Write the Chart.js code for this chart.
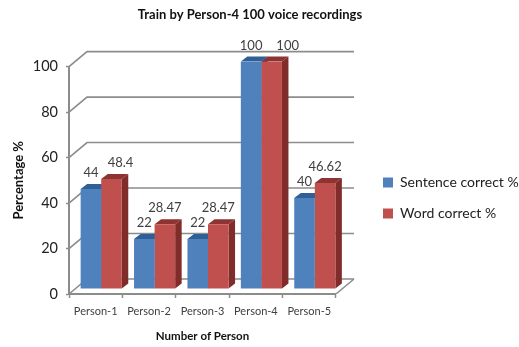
<!DOCTYPE html>
<html>
<head>
<meta charset="utf-8">
<title>Train by Person-4 100 voice recordings</title>
<script src="https://cdn.jsdelivr.net/npm/chart.js@4"></script>
<style>
  html, body { margin: 0; padding: 0; background: #fff; }
  #wrap { width: 519px; height: 347px; }
</style>
</head>
<body>
<div id="wrap"><canvas id="recordingsChart"></canvas></div>
<script>
// --- Data ---
const persons = ['Person-1', 'Person-2', 'Person-3', 'Person-4', 'Person-5'];
const sentenceCorrect = [44, 22, 22, 100, 40];
const wordCorrect = [48.4, 28.47, 28.47, 100, 46.62];
const valueLabels = [
  ['44', '22', '22', '100', '40'],
  ['48.4', '28.47', '28.47', '100', '46.62']
];

// --- Look ---
const FONT = 'Lato, sans-serif';
const AXIS_GRAY = '#8c8c8c';
const WALL = { dx: 18, dy: 15 };      // how far the back wall sits behind the axes
const FRONT = { dx: 5.5, dy: 5 };     // bars stand a little in from the axes
const BAR_DEPTH = { dx: 6.5, dy: 5 };
const SHADES = [
  { top: '#2f5f97', side: '#2f5f97' },
  { top: '#8e3331', side: '#7f2c2a' }
];
// the labels that Excel pushed sideways to clear a neighbour: [dataset, index, px]
const LABEL_NUDGE = [[1, 0, 9], [1, 3, 16]];

function poly(ctx, pts, fill) {
  ctx.beginPath();
  pts.forEach((p, i) => i ? ctx.lineTo(p[0], p[1]) : ctx.moveTo(p[0], p[1]));
  ctx.closePath();
  ctx.fillStyle = fill;
  ctx.fill();
}

const threeD = {
  id: 'threeD',
  afterLayout(chart) {
    // legend sits lower and further out than the default right-hand slot,
    // and its box is widened so the draw clip doesn't cut the text
    const l = chart.legend;
    const h = l.bottom - l.top;
    l.left = 366;
    l.right = chart.width;
    l.top = 198 - h / 2;
    l.bottom = l.top + h;
    // title is centred a bit right of the page middle
    chart.titleBlock.left = 6;
    chart.titleBlock.right = 494;
  },
  beforeDatasetsDraw(chart) {
    const { ctx, chartArea, scales } = chart;
    const { left, right, bottom } = chartArea;

    // back wall: one line per tick plus the slanted return to the axis
    ctx.save();
    ctx.strokeStyle = AXIS_GRAY;
    ctx.lineWidth = 1.6;
    scales.y.ticks.forEach(t => {
      const y = scales.y.getPixelForValue(t.value);
      ctx.beginPath();
      ctx.moveTo(left, y);
      ctx.lineTo(left + WALL.dx, y - WALL.dy);
      ctx.lineTo(right + WALL.dx, y - WALL.dy);
      ctx.stroke();
    });
    // right edge of the floor
    ctx.beginPath();
    ctx.moveTo(right, bottom);
    ctx.lineTo(right + WALL.dx, bottom - WALL.dy);
    ctx.stroke();

    // shift the plane the bars are drawn in, then add tops and sides behind the fronts
    ctx.translate(FRONT.dx, -FRONT.dy);
    chart.data.datasets.forEach((ds, di) => {
      chart.getDatasetMeta(di).data.forEach(bar => {
        const x0 = bar.x - bar.width / 2, x1 = bar.x + bar.width / 2;
        const d = BAR_DEPTH;
        poly(ctx, [[x0, bar.y], [x1, bar.y], [x1 + d.dx, bar.y - d.dy], [x0 + d.dx, bar.y - d.dy]], SHADES[di].top);
        poly(ctx, [[x1, bar.y], [x1 + d.dx, bar.y - d.dy], [x1 + d.dx, bar.base - d.dy], [x1, bar.base]], SHADES[di].side);
      });
    });
  },
  afterDatasetsDraw(chart) {
    const { ctx } = chart;
    ctx.restore();

    // value labels above each bar
    ctx.save();
    ctx.font = '13px ' + FONT;
    ctx.fillStyle = '#404040';
    ctx.textAlign = 'center';
    ctx.textBaseline = 'middle';
    chart.data.datasets.forEach((ds, di) => {
      chart.getDatasetMeta(di).data.forEach((bar, i) => {
        const nudge = LABEL_NUDGE.find(n => n[0] === di && n[1] === i);
        ctx.fillText(valueLabels[di][i], bar.x + FRONT.dx + (nudge ? nudge[2] : 0), bar.y - FRONT.dy - 16);
      });
    });
    ctx.restore();
  }
};

// --- Chart ---
new Chart(document.getElementById('recordingsChart'), {
  type: 'bar',
  data: {
    labels: persons,
    datasets: [
      { label: 'Sentence correct %', data: sentenceCorrect, backgroundColor: '#4f81bd' },
      { label: 'Word correct %', data: wordCorrect, backgroundColor: '#c0504d' }
    ]
  },
  plugins: [threeD],
  options: {
    responsive: true,
    maintainAspectRatio: false,
    animation: false,
    layout: { padding: { left: 11, right: 74.67, top: 0, bottom: 4 } },
    datasets: { bar: { categoryPercentage: 0.77, barPercentage: 1 } },
    scales: {
      x: {
        grid: { drawOnChartArea: false, color: AXIS_GRAY, tickLength: 4, tickWidth: 1.5 },
        border: { color: AXIS_GRAY, width: 2 },
        ticks: { color: '#404040', font: { family: FONT, size: 11 }, padding: 7, maxRotation: 0 },
        title: { display: true, text: 'Number of Person', color: '#111', font: { family: FONT, size: 11.5, weight: 'bold' }, padding: { top: 5, bottom: 0 } },
        afterFit: s => { s.height = 49; }
      },
      y: {
        min: 0,
        max: 100,
        grid: { drawOnChartArea: false, color: AXIS_GRAY, tickLength: 3, tickWidth: 1.5 },
        border: { color: AXIS_GRAY, width: 2 },
        ticks: { stepSize: 20, color: '#222', font: { family: FONT, size: 14.5 }, padding: 8 },
        title: { display: true, text: 'Percentage %', color: '#111', font: { family: FONT, size: 13, weight: 'bold' }, padding: { top: 0, bottom: 4 } },
        afterFit: s => { s.width = 58; }
      }
    },
    plugins: {
      title: {
        display: true,
        text: 'Train by Person-4 100 voice recordings',
        color: '#111',
        font: { family: FONT, size: 13, weight: 'bold', lineHeight: 1.2 },
        padding: { top: 7, bottom: 44 }
      },
      legend: {
        position: 'right',
        labels: { boxWidth: 10, boxHeight: 10, padding: 17, color: '#222', font: { family: FONT, size: 14 } }
      },
      tooltip: { enabled: false }
    }
  }
});
</script>
</body>
</html>
